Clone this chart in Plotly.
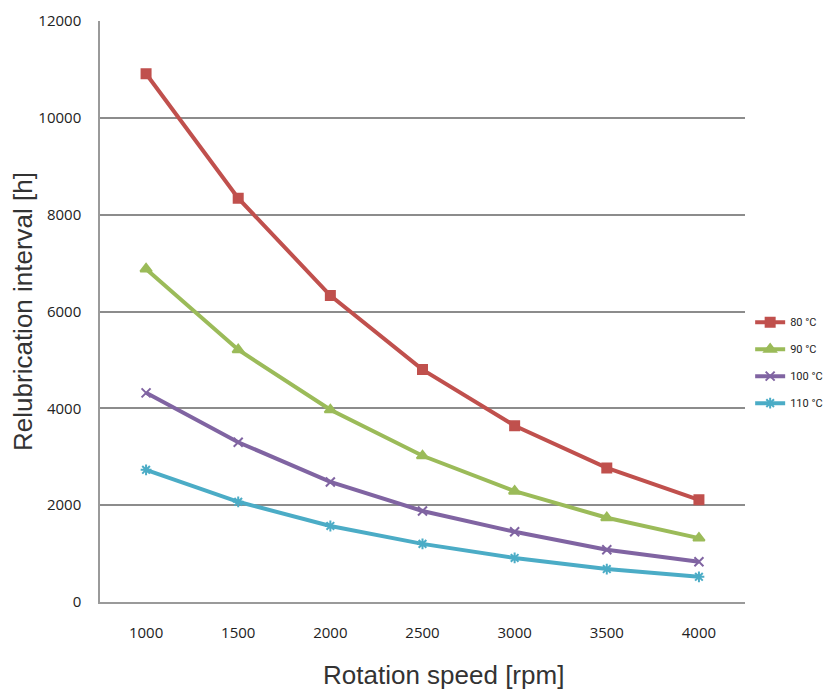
import plotly.graph_objects as go

# Data
speeds = ["1000", "1500", "2000", "2500", "3000", "3500", "4000"]
t80 = [10910, 8340, 6330, 4800, 3640, 2770, 2110]
t90 = [6880, 5210, 3970, 3020, 2290, 1740, 1320]
t100 = [4320, 3300, 2480, 1880, 1450, 1080, 830]
t110 = [2730, 2070, 1570, 1200, 910, 680, 520]

series = [
    ("80 °C", t80, "#C0504D", "square", 9),
    ("90 °C", t90, "#9BBB59", "triangle-up", 10),
    ("100 °C", t100, "#8064A2", "x-thin-open", 9),
    ("110 °C", t110, "#4BACC6", "asterisk-open", 9),
]

fig = go.Figure()

for name, vals, color, sym, size in series:
    fig.add_trace(go.Scatter(
        x=speeds,
        y=vals,
        mode='lines+markers',
        name=name,
        legendgroup=name,
        line=dict(color=color, width=4),
        marker=dict(symbol=sym, size=size, color=color,
                    line=dict(color=color, width=2)),
    ))

# page body has an 8px margin, so the figure is offset by it
fig.update_layout(
    width=815,
    height=681,
    margin=dict(l=92, r=78, t=13, b=87, autoexpand=False),
    plot_bgcolor='white',
    paper_bgcolor='white',
    font=dict(family="Open Sans, Noto Sans, sans-serif", color='#222222'),
    showlegend=True,
    legend=dict(
        x=1.008, y=0.412, xanchor='left', yanchor='middle',
        font=dict(size=11, family="Roboto, sans-serif", color='#222222'),
        tracegroupgap=8,
        itemwidth=30,
    ),
    annotations=[dict(
        text='Rotation speed [rpm]',
        xref='paper', yref='paper',
        x=0.533, y=-0.125, xanchor='center', yanchor='middle',
        showarrow=False,
        font=dict(size=26, family="Liberation Sans, Arial, sans-serif", color='#333333'),
    )],
)

fig.update_xaxes(
    type='category',
    range=[-0.5, 6.5],
    showgrid=False,
    showline=True,
    linecolor='#9a9a9a',
    linewidth=1.5,
    ticks='',
    automargin=False,
    ticklabelstandoff=16,
    tickfont=dict(size=15, family="Open Sans, sans-serif"),
)

fig.update_yaxes(
    range=[0, 12000],
    dtick=2000,
    tickformat='d',
    showgrid=True,
    gridcolor='#8c8c8c',
    gridwidth=1.5,
    showline=True,
    linecolor='#9a9a9a',
    linewidth=1.5,
    zeroline=False,
    ticks='',
    automargin=False,
    ticklabelstandoff=14,
    tickfont=dict(size=15, family="Open Sans, sans-serif"),
    title=dict(text='Relubrication interval [h]', standoff=4,
               font=dict(size=26, family="Liberation Sans, Arial, sans-serif", color='#333333')),
)

fig.write_html("out.html")
